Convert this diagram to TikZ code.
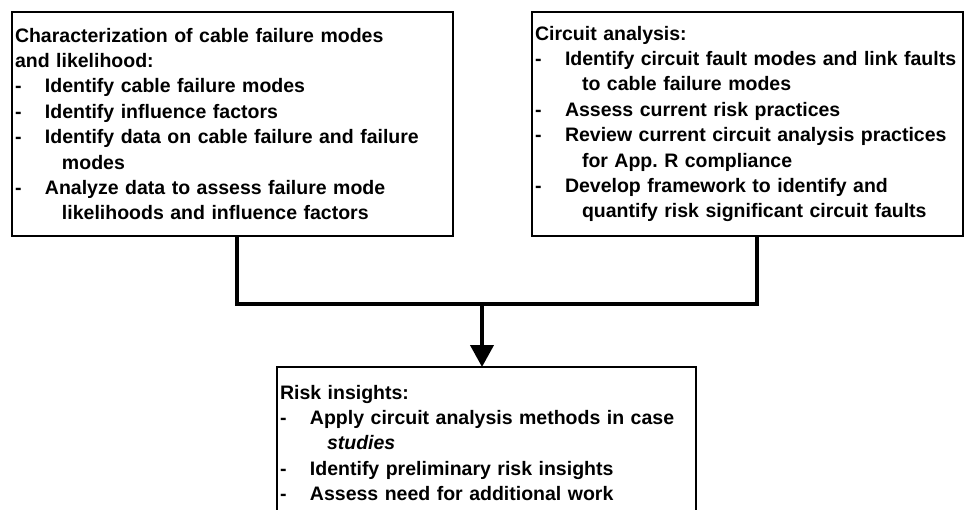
\documentclass[tikz,border=0pt]{standalone}
\usepackage{fontspec}
\setmainfont{Liberation Sans}
\usetikzlibrary{arrows.meta,positioning}
\newcommand{\itm}{\makebox[30pt][l]{-}}
\newcommand{\cnt}{\hspace*{47pt}}
\tikzset{
  base/.style={font=\bfseries\fontsize{19.5pt}{25.4pt}\selectfont\frenchspacing, align=left, inner xsep=3pt, inner ysep=4pt, outer sep=0mm},
  box/.style={rectangle, draw=black, line width=2.5pt, base},
  link/.style={line width=4pt, color=black},
  arrow/.style={-{Triangle[length=22pt,width=23pt]}, link}
}
\begin{document}
\begin{tikzpicture}[x=1pt, y=-1pt]
  \useasboundingbox (0,0) rectangle (965,510);
  \clip (0,0) rectangle (965,510);

  \node[box, text width=435pt, minimum height=224pt, anchor=north west] (charbox) at (12,12)
    {Characterization of cable failure modes\\
     and likelihood:\\
     \itm Identify cable failure modes\\
     \itm Identify influence factors\\
     \itm Identify data on cable failure and failure\\
     \cnt modes\\
     \itm Analyze data to assess failure mode\\
     \cnt likelihoods and influence factors};
  \node[box, text width=425pt, minimum height=224pt, anchor=north west] (circbox) at (532,12)
    {Circuit analysis:\\
     \itm Identify circuit fault modes and link faults\\
     \cnt to cable failure modes\\
     \itm Assess current risk practices\\
     \itm Review current circuit analysis practices\\
     \cnt for App. R compliance\\
     \itm Develop framework to identify and\\
     \cnt quantify risk significant circuit faults};
  \node[box, text width=413pt, text height=28pt, text depth=140pt, anchor=north west] (riskbox) at (277,367)
    {Risk insights:\\
     \itm Apply circuit analysis methods in case\\
     \cnt \textit{studies}\\
     \itm Identify preliminary risk insights\\
     \itm Assess need for additional work};

  \coordinate (join) at (482,304);
  \draw[link] ([xshift=4.5pt]charbox.south) |- (join) -| ([xshift=9.5pt]circbox.south);
  \draw[arrow] (join) -- (join |- riskbox.north);
\end{tikzpicture}
\end{document}
